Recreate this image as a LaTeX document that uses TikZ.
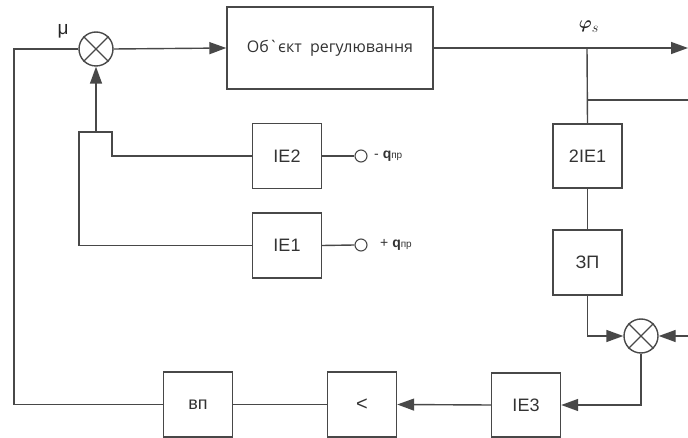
\documentclass[tikz,border=0pt]{standalone}
\usepackage{fontspec}
\setmainfont{Liberation Sans}
\newfontfamily\objfont{Open Sans}
\usepackage{amsmath}
\usetikzlibrary{arrows.meta}
\definecolor{lc}{RGB}{72,72,72}
\begin{document}
\begin{tikzpicture}[x=1pt,y=-1pt,
  line/.style={draw=lc, line width=1.4pt},
  arr/.style={line, -{Triangle[length=17pt,width=12pt]}},
  blk/.style={draw=lc, line width=1.4pt, minimum width=69pt, minimum height=65pt,
    inner sep=0pt, font=\fontsize{18}{18}\selectfont, text=black!80},
  sumc/.style={circle, draw=lc, line width=1.4pt, minimum size=34pt, inner sep=0pt},
  term/.style={circle, draw=lc, fill=white, line width=1.1pt, minimum size=12pt, inner sep=0pt},
  lbl/.style={font=\fontsize{14}{14}\selectfont, text=black!80, anchor=west, inner sep=0pt}]
\useasboundingbox (0,0) rectangle (688,438);
% nodes
\node[sumc] (s1) at (96,49) {};
\node[sumc] (s2) at (641,336) {};
\node[blk, minimum width=206pt, minimum height=82pt, font=\objfont\fontsize{16}{16}\selectfont] (obj) at (330,48) {Об`єкт\ \ регулювання};
\node[blk] (ie2) at (287,156) {IE2};
\node[blk] (ie1) at (287,245.5) {IE1};
\node[blk, minimum height=64pt] (tie1) at (587.5,156) {2IE1};
\node[blk] (zp) at (587.5,262.5) {ЗП};
\node[blk, minimum height=64pt] (ie3) at (526,405) {IE3};
\node[blk] (lt) at (362,404.5) {\fontsize{20}{20}\selectfont <};
\node[blk] (vp) at (198,404.5) {вп};
\node[term] (t2) at (361,156) {};
\node[term] (t1) at (361,245) {};
\node[lbl] (q2) at (374,156) {- {\bfseries q}{\fontsize{10}{10}\selectfont пр}};
\node[lbl] (q1) at (380,245) {+ {\bfseries q}{\fontsize{10}{10}\selectfont пр}};
\node[font=\fontsize{19}{19}\selectfont, text=black!85] (mu) at (63,31) {μ};
\node[font=\fontsize{19}{19}\selectfont, text=black!85] (phi) at (589,27) {$\boldsymbol{\varphi}_{s}$};
% coordinates
\coordinate (out) at (688,48);
\coordinate (br) at (587,48);
\coordinate (br2) at (587,100);
\coordinate (out2) at (688,100);
\coordinate (in2) at (688,336);
\coordinate (j) at (96,132);
\coordinate (jl) at (79,132);
\coordinate (jr) at (112,132);
\coordinate (fb) at (14,404.5);
% crosses
\foreach \s in {s1,s2}{
  \draw[line] (\s.north west) -- (\s.south east);
  \draw[line] (\s.north east) -- (\s.south west);
}
% connectors
\draw[arr] (s1.east) -- (obj.west);
\draw[arr] (obj.east) -- (out);
\draw[line] (br) -- (tie1.north);
\draw[line] (br2) -- (out2);
\draw[line] (tie1.south) -- (zp.north);
\draw[arr] (zp.south) |- (s2.west);
\draw[arr] (in2) -- (s2.east);
\draw[arr] (s2.south) |- (ie3.east);
\draw[arr] (ie3.west) -- (lt.east);
\draw[line] (lt.west) -- (vp.east);
\draw[line] (vp.west) -- (fb) |- (s1.west);
\draw[arr] (j) -- (s1.south);
\draw[line] (ie2.west) -| (jr) -- (jl) |- (ie1.west);
\draw[line] (ie2.east) -- (t2.west);
\draw[line] (ie1.east) -- (t1.west);
\end{tikzpicture}
\end{document}
